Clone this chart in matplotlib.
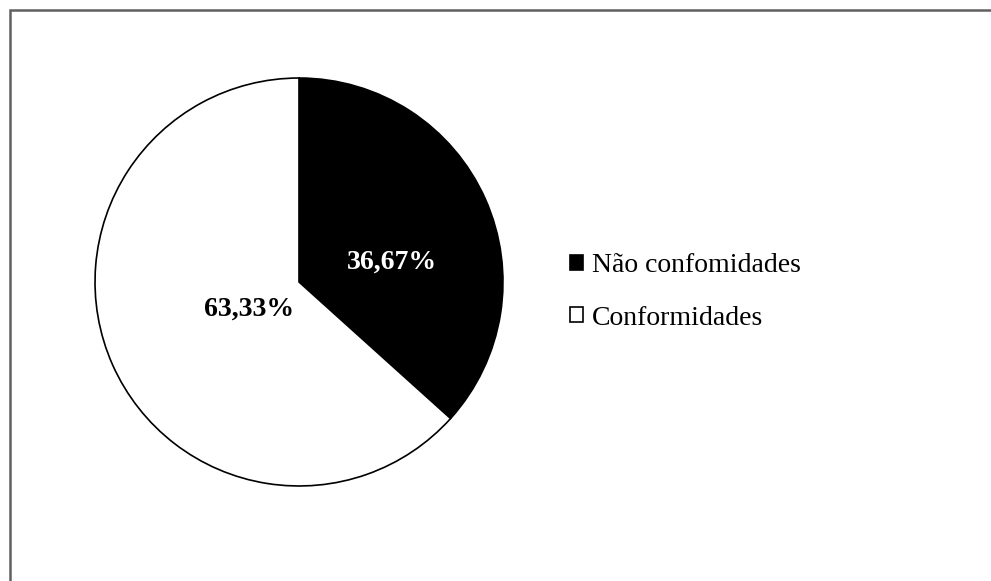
import matplotlib
matplotlib.use("Agg")
import matplotlib.pyplot as plt
from matplotlib.patches import Rectangle

categories = ["Não confomidades", "Conformidades"]
values = [36.67, 63.33]
colors = ["black", "white"]
text_colors = ["white", "black"]
# label positions in axes data units (pie radius = 1)
label_pos = [(0.454, 0.098), (-0.244, -0.132)]

plt.rcParams["font.family"] = ["Liberation Serif", "DejaVu Serif"]

W, H = 991, 581
fig = plt.figure(figsize=(W / 100, H / 100), dpi=100)

# outer gray frame (right/bottom edges cut off in the original)
fig.patches.append(Rectangle((9.5 / W, -0.2), 1.2, 1.2 - 9.5 / H,
                             transform=fig.transFigure, fill=False,
                             edgecolor="#606060", linewidth=1.8))

cx, cy, r = 299, 282, 205
ax = fig.add_axes([(cx - r) / W, 1 - (cy + r) / H, 2 * r / W, 2 * r / H])

wedges, texts, autotexts = ax.pie(
    values, colors=colors, startangle=90, counterclock=False, radius=1,
    autopct=lambda p: f"{p:.2f}%".replace(".", ","),
    wedgeprops=dict(edgecolor="black", linewidth=1.2),
    textprops=dict(fontsize=20, fontweight="bold"),
)
for t, c, pos in zip(autotexts, text_colors, label_pos):
    t.set_color(c)
    t.set_position(pos)

ax.set_xlim(-1.005, 1.005)
ax.set_ylim(-1.005, 1.005)
ax.set_aspect("equal")
ax.axis("off")

fig.legend(wedges, categories, loc="center left",
           bbox_to_anchor=(570 / W, 1 - 292 / H), frameon=False,
           fontsize=20, borderpad=0, borderaxespad=0,
           handlelength=0.45, handleheight=0.45, handletextpad=0.35,
           labelspacing=0.98)

fig.savefig("out.png", dpi=100)
